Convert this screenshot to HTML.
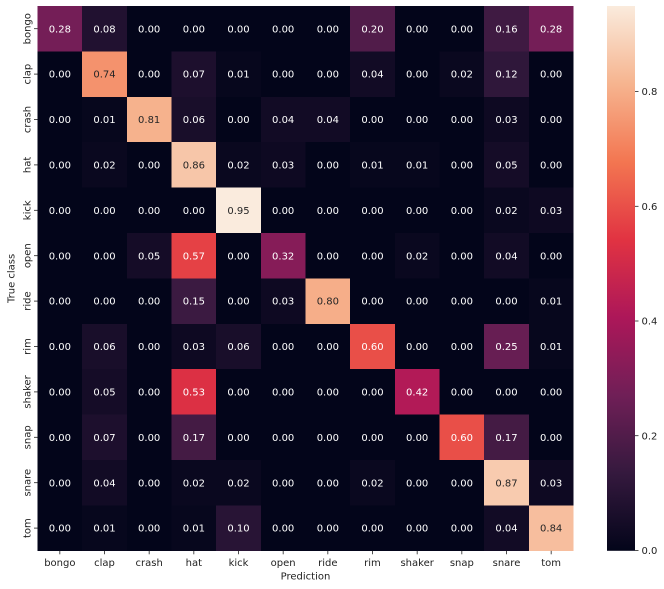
<!DOCTYPE html>
<html><head><meta charset="utf-8"><style>
html,body{margin:0;padding:0;background:#fff;}
svg{display:block;}
text{font-family:"DejaVu Sans","Liberation Sans",sans-serif;font-size:10px;}
</style></head><body>
<svg width="664" height="589" viewBox="0 0 664 589" xmlns="http://www.w3.org/2000/svg">
<defs>
<linearGradient id="cb" x1="0" y1="1" x2="0" y2="0">
<stop offset="0" stop-color="#03051a"/>
<stop offset="0.143" stop-color="#35193e"/>
<stop offset="0.286" stop-color="#701f57"/>
<stop offset="0.429" stop-color="#ad1759"/>
<stop offset="0.571" stop-color="#e13342"/>
<stop offset="0.714" stop-color="#f37651"/>
<stop offset="0.857" stop-color="#f6b48f"/>
<stop offset="1" stop-color="#faebdd"/>
</linearGradient>
</defs>
<rect x="0" y="0" width="664" height="589" fill="#fff"/>
<g shape-rendering="crispEdges">
<rect x="37.5" y="6" width="536" height="544.8" fill="#03051a"/>
<!-- row 0 bongo -->
<rect x="37.5" y="6" width="44.67" height="45.4" fill="#741e57"/>
<rect x="82.17" y="6" width="44.67" height="45.4" fill="#211130"/>
<rect x="350.17" y="6" width="44.67" height="45.4" fill="#511c4a"/>
<rect x="484.17" y="6" width="44.67" height="45.4" fill="#3f1a42"/>
<rect x="528.83" y="6" width="44.67" height="45.4" fill="#741e57"/>
<!-- row 1 clap -->
<rect x="82.17" y="51.4" width="44.67" height="45.4" fill="#f4926d"/>
<rect x="171.5" y="51.4" width="44.67" height="45.4" fill="#1d0f2d"/>
<rect x="216.17" y="51.4" width="44.67" height="45.4" fill="#07071d"/>
<rect x="350.17" y="51.4" width="44.67" height="45.4" fill="#120b25"/>
<rect x="439.5" y="51.4" width="44.67" height="45.4" fill="#0a081f"/>
<rect x="484.17" y="51.4" width="44.67" height="45.4" fill="#2f173a"/>
<!-- row 2 crash -->
<rect x="82.17" y="96.8" width="44.67" height="45.4" fill="#07071d"/>
<rect x="126.83" y="96.8" width="44.67" height="45.4" fill="#f6b28d"/>
<rect x="171.5" y="96.8" width="44.67" height="45.4" fill="#190e2a"/>
<rect x="260.83" y="96.8" width="44.67" height="45.4" fill="#120b25"/>
<rect x="305.5" y="96.8" width="44.67" height="45.4" fill="#120b25"/>
<rect x="484.17" y="96.8" width="44.67" height="45.4" fill="#0e0922"/>
<!-- row 3 hat -->
<rect x="82.17" y="142.2" width="44.67" height="45.4" fill="#0a081f"/>
<rect x="171.5" y="142.2" width="44.67" height="45.4" fill="#f7c6a9"/>
<rect x="216.17" y="142.2" width="44.67" height="45.4" fill="#0a081f"/>
<rect x="260.83" y="142.2" width="44.67" height="45.4" fill="#0e0922"/>
<rect x="350.17" y="142.2" width="44.67" height="45.4" fill="#07071d"/>
<rect x="394.83" y="142.2" width="44.67" height="45.4" fill="#07071d"/>
<rect x="484.17" y="142.2" width="44.67" height="45.4" fill="#150c27"/>
<!-- row 4 kick -->
<rect x="216.17" y="187.6" width="44.67" height="45.4" fill="#faebdd"/>
<rect x="484.17" y="187.6" width="44.67" height="45.4" fill="#0a081f"/>
<rect x="528.83" y="187.6" width="44.67" height="45.4" fill="#0e0922"/>
<!-- row 5 open -->
<rect x="126.83" y="233" width="44.67" height="45.4" fill="#150c27"/>
<rect x="171.5" y="233" width="44.67" height="45.4" fill="#e54145"/>
<rect x="260.83" y="233" width="44.67" height="45.4" fill="#861c58"/>
<rect x="394.83" y="233" width="44.67" height="45.4" fill="#0a081f"/>
<rect x="484.17" y="233" width="44.67" height="45.4" fill="#120b25"/>
<!-- row 6 ride -->
<rect x="171.5" y="278.4" width="44.67" height="45.4" fill="#3b1a41"/>
<rect x="260.83" y="278.4" width="44.67" height="45.4" fill="#0e0922"/>
<rect x="305.5" y="278.4" width="44.67" height="45.4" fill="#f6ae89"/>
<rect x="528.83" y="278.4" width="44.67" height="45.4" fill="#07071d"/>
<!-- row 7 rim -->
<rect x="82.17" y="323.8" width="44.67" height="45.4" fill="#190e2a"/>
<rect x="171.5" y="323.8" width="44.67" height="45.4" fill="#0e0922"/>
<rect x="216.17" y="323.8" width="44.67" height="45.4" fill="#190e2a"/>
<rect x="350.17" y="323.8" width="44.67" height="45.4" fill="#e94f48"/>
<rect x="484.17" y="323.8" width="44.67" height="45.4" fill="#671e53"/>
<rect x="528.83" y="323.8" width="44.67" height="45.4" fill="#07071d"/>
<!-- row 8 shaker -->
<rect x="82.17" y="369.2" width="44.67" height="45.4" fill="#150c27"/>
<rect x="171.5" y="369.2" width="44.67" height="45.4" fill="#dc3044"/>
<rect x="394.83" y="369.2" width="44.67" height="45.4" fill="#b21a57"/>
<!-- row 9 snap -->
<rect x="82.17" y="414.6" width="44.67" height="45.4" fill="#1d0f2d"/>
<rect x="171.5" y="414.6" width="44.67" height="45.4" fill="#441b44"/>
<rect x="439.5" y="414.6" width="44.67" height="45.4" fill="#e94f48"/>
<rect x="484.17" y="414.6" width="44.67" height="45.4" fill="#441b44"/>
<!-- row 10 snare -->
<rect x="82.17" y="460" width="44.67" height="45.4" fill="#120b25"/>
<rect x="171.5" y="460" width="44.67" height="45.4" fill="#0a081f"/>
<rect x="216.17" y="460" width="44.67" height="45.4" fill="#0a081f"/>
<rect x="350.17" y="460" width="44.67" height="45.4" fill="#0a081f"/>
<rect x="484.17" y="460" width="44.67" height="45.4" fill="#f8cbaf"/>
<rect x="528.83" y="460" width="44.67" height="45.4" fill="#0e0922"/>
<!-- row 11 tom -->
<rect x="82.17" y="505.4" width="44.67" height="45.4" fill="#07071d"/>
<rect x="171.5" y="505.4" width="44.67" height="45.4" fill="#07071d"/>
<rect x="216.17" y="505.4" width="44.67" height="45.4" fill="#281435"/>
<rect x="484.17" y="505.4" width="44.67" height="45.4" fill="#120b25"/>
<rect x="528.83" y="505.4" width="44.67" height="45.4" fill="#f7be9e"/>
</g>

<!-- annotations -->
<g text-anchor="middle" fill="#ffffff">
<g transform="translate(0,32.3)">
<text x="59.83">0.28</text><text x="104.5">0.08</text><text x="149.17">0.00</text><text x="193.83">0.00</text><text x="238.5">0.00</text><text x="283.17">0.00</text><text x="327.83">0.00</text><text x="372.5">0.20</text><text x="417.17">0.00</text><text x="461.83">0.00</text><text x="506.5">0.16</text><text x="551.17">0.28</text>
</g>
<g transform="translate(0,77.7)">
<text x="59.83">0.00</text><text x="104.5" fill="#262626">0.74</text><text x="149.17">0.00</text><text x="193.83">0.07</text><text x="238.5">0.01</text><text x="283.17">0.00</text><text x="327.83">0.00</text><text x="372.5">0.04</text><text x="417.17">0.00</text><text x="461.83">0.02</text><text x="506.5">0.12</text><text x="551.17">0.00</text>
</g>
<g transform="translate(0,123.1)">
<text x="59.83">0.00</text><text x="104.5">0.01</text><text x="149.17" fill="#262626">0.81</text><text x="193.83">0.06</text><text x="238.5">0.00</text><text x="283.17">0.04</text><text x="327.83">0.04</text><text x="372.5">0.00</text><text x="417.17">0.00</text><text x="461.83">0.00</text><text x="506.5">0.03</text><text x="551.17">0.00</text>
</g>
<g transform="translate(0,168.5)">
<text x="59.83">0.00</text><text x="104.5">0.02</text><text x="149.17">0.00</text><text x="193.83" fill="#262626">0.86</text><text x="238.5">0.02</text><text x="283.17">0.03</text><text x="327.83">0.00</text><text x="372.5">0.01</text><text x="417.17">0.01</text><text x="461.83">0.00</text><text x="506.5">0.05</text><text x="551.17">0.00</text>
</g>
<g transform="translate(0,213.9)">
<text x="59.83">0.00</text><text x="104.5">0.00</text><text x="149.17">0.00</text><text x="193.83">0.00</text><text x="238.5" fill="#262626">0.95</text><text x="283.17">0.00</text><text x="327.83">0.00</text><text x="372.5">0.00</text><text x="417.17">0.00</text><text x="461.83">0.00</text><text x="506.5">0.02</text><text x="551.17">0.03</text>
</g>
<g transform="translate(0,259.3)">
<text x="59.83">0.00</text><text x="104.5">0.00</text><text x="149.17">0.05</text><text x="193.83">0.57</text><text x="238.5">0.00</text><text x="283.17">0.32</text><text x="327.83">0.00</text><text x="372.5">0.00</text><text x="417.17">0.02</text><text x="461.83">0.00</text><text x="506.5">0.04</text><text x="551.17">0.00</text>
</g>
<g transform="translate(0,304.7)">
<text x="59.83">0.00</text><text x="104.5">0.00</text><text x="149.17">0.00</text><text x="193.83">0.15</text><text x="238.5">0.00</text><text x="283.17">0.03</text><text x="327.83" fill="#262626">0.80</text><text x="372.5">0.00</text><text x="417.17">0.00</text><text x="461.83">0.00</text><text x="506.5">0.00</text><text x="551.17">0.01</text>
</g>
<g transform="translate(0,350.1)">
<text x="59.83">0.00</text><text x="104.5">0.06</text><text x="149.17">0.00</text><text x="193.83">0.03</text><text x="238.5">0.06</text><text x="283.17">0.00</text><text x="327.83">0.00</text><text x="372.5">0.60</text><text x="417.17">0.00</text><text x="461.83">0.00</text><text x="506.5">0.25</text><text x="551.17">0.01</text>
</g>
<g transform="translate(0,395.5)">
<text x="59.83">0.00</text><text x="104.5">0.05</text><text x="149.17">0.00</text><text x="193.83">0.53</text><text x="238.5">0.00</text><text x="283.17">0.00</text><text x="327.83">0.00</text><text x="372.5">0.00</text><text x="417.17">0.42</text><text x="461.83">0.00</text><text x="506.5">0.00</text><text x="551.17">0.00</text>
</g>
<g transform="translate(0,440.9)">
<text x="59.83">0.00</text><text x="104.5">0.07</text><text x="149.17">0.00</text><text x="193.83">0.17</text><text x="238.5">0.00</text><text x="283.17">0.00</text><text x="327.83">0.00</text><text x="372.5">0.00</text><text x="417.17">0.00</text><text x="461.83">0.60</text><text x="506.5">0.17</text><text x="551.17">0.00</text>
</g>
<g transform="translate(0,486.3)">
<text x="59.83">0.00</text><text x="104.5">0.04</text><text x="149.17">0.00</text><text x="193.83">0.02</text><text x="238.5">0.02</text><text x="283.17">0.00</text><text x="327.83">0.00</text><text x="372.5">0.02</text><text x="417.17">0.00</text><text x="461.83">0.00</text><text x="506.5" fill="#262626">0.87</text><text x="551.17">0.03</text>
</g>
<g transform="translate(0,531.7)">
<text x="59.83">0.00</text><text x="104.5">0.01</text><text x="149.17">0.00</text><text x="193.83">0.01</text><text x="238.5">0.10</text><text x="283.17">0.00</text><text x="327.83">0.00</text><text x="372.5">0.00</text><text x="417.17">0.00</text><text x="461.83">0.00</text><text x="506.5">0.04</text><text x="551.17" fill="#262626">0.84</text>
</g>
</g>

<!-- y ticks -->
<g stroke="#222" stroke-width="0.8">
<line x1="34" y1="28.7" x2="37.5" y2="28.7"/><line x1="34" y1="74.1" x2="37.5" y2="74.1"/><line x1="34" y1="119.5" x2="37.5" y2="119.5"/><line x1="34" y1="164.9" x2="37.5" y2="164.9"/><line x1="34" y1="210.3" x2="37.5" y2="210.3"/><line x1="34" y1="255.7" x2="37.5" y2="255.7"/><line x1="34" y1="301.1" x2="37.5" y2="301.1"/><line x1="34" y1="346.5" x2="37.5" y2="346.5"/><line x1="34" y1="391.9" x2="37.5" y2="391.9"/><line x1="34" y1="437.3" x2="37.5" y2="437.3"/><line x1="34" y1="482.7" x2="37.5" y2="482.7"/><line x1="34" y1="528.1" x2="37.5" y2="528.1"/>
</g>
<g fill="#222" text-anchor="middle">
<text transform="translate(30.5,28.7) rotate(-90)">bongo</text>
<text transform="translate(30.5,74.1) rotate(-90)">clap</text>
<text transform="translate(30.5,119.5) rotate(-90)">crash</text>
<text transform="translate(30.5,164.9) rotate(-90)">hat</text>
<text transform="translate(30.5,210.3) rotate(-90)">kick</text>
<text transform="translate(30.5,255.7) rotate(-90)">open</text>
<text transform="translate(30.5,301.1) rotate(-90)">ride</text>
<text transform="translate(30.5,346.5) rotate(-90)">rim</text>
<text transform="translate(30.5,391.9) rotate(-90)">shaker</text>
<text transform="translate(30.5,437.3) rotate(-90)">snap</text>
<text transform="translate(30.5,482.7) rotate(-90)">snare</text>
<text transform="translate(30.5,528.1) rotate(-90)">tom</text>
<text transform="translate(14.5,278.4) rotate(-90)">True class</text>
</g>

<!-- x ticks -->
<g stroke="#222" stroke-width="0.8">
<line x1="59.83" y1="550.8" x2="59.83" y2="554.3"/><line x1="104.5" y1="550.8" x2="104.5" y2="554.3"/><line x1="149.17" y1="550.8" x2="149.17" y2="554.3"/><line x1="193.83" y1="550.8" x2="193.83" y2="554.3"/><line x1="238.5" y1="550.8" x2="238.5" y2="554.3"/><line x1="283.17" y1="550.8" x2="283.17" y2="554.3"/><line x1="327.83" y1="550.8" x2="327.83" y2="554.3"/><line x1="372.5" y1="550.8" x2="372.5" y2="554.3"/><line x1="417.17" y1="550.8" x2="417.17" y2="554.3"/><line x1="461.83" y1="550.8" x2="461.83" y2="554.3"/><line x1="506.5" y1="550.8" x2="506.5" y2="554.3"/><line x1="551.17" y1="550.8" x2="551.17" y2="554.3"/>
</g>
<g fill="#222" text-anchor="middle">
<text x="59.83" y="566">bongo</text><text x="104.5" y="566">clap</text><text x="149.17" y="566">crash</text><text x="193.83" y="566">hat</text><text x="238.5" y="566">kick</text><text x="283.17" y="566">open</text><text x="327.83" y="566">ride</text><text x="372.5" y="566">rim</text><text x="417.17" y="566">shaker</text><text x="461.83" y="566">snap</text><text x="506.5" y="566">snare</text><text x="551.17" y="566">tom</text>
<text x="305.5" y="579.5">Prediction</text>
</g>

<!-- colorbar -->
<rect x="607" y="6" width="28" height="544.8" fill="url(#cb)"/>
<g stroke="#222" stroke-width="0.8">
<line x1="635" y1="550.4" x2="638.5" y2="550.4"/>
<line x1="635" y1="435.7" x2="638.5" y2="435.7"/>
<line x1="635" y1="321" x2="638.5" y2="321"/>
<line x1="635" y1="206.3" x2="638.5" y2="206.3"/>
<line x1="635" y1="91.6" x2="638.5" y2="91.6"/>
</g>
<g fill="#222">
<text x="641.5" y="554">0.0</text>
<text x="641.5" y="439.3">0.2</text>
<text x="641.5" y="324.6">0.4</text>
<text x="641.5" y="209.9">0.6</text>
<text x="641.5" y="95.2">0.8</text>
</g>
</svg>
</body></html>
